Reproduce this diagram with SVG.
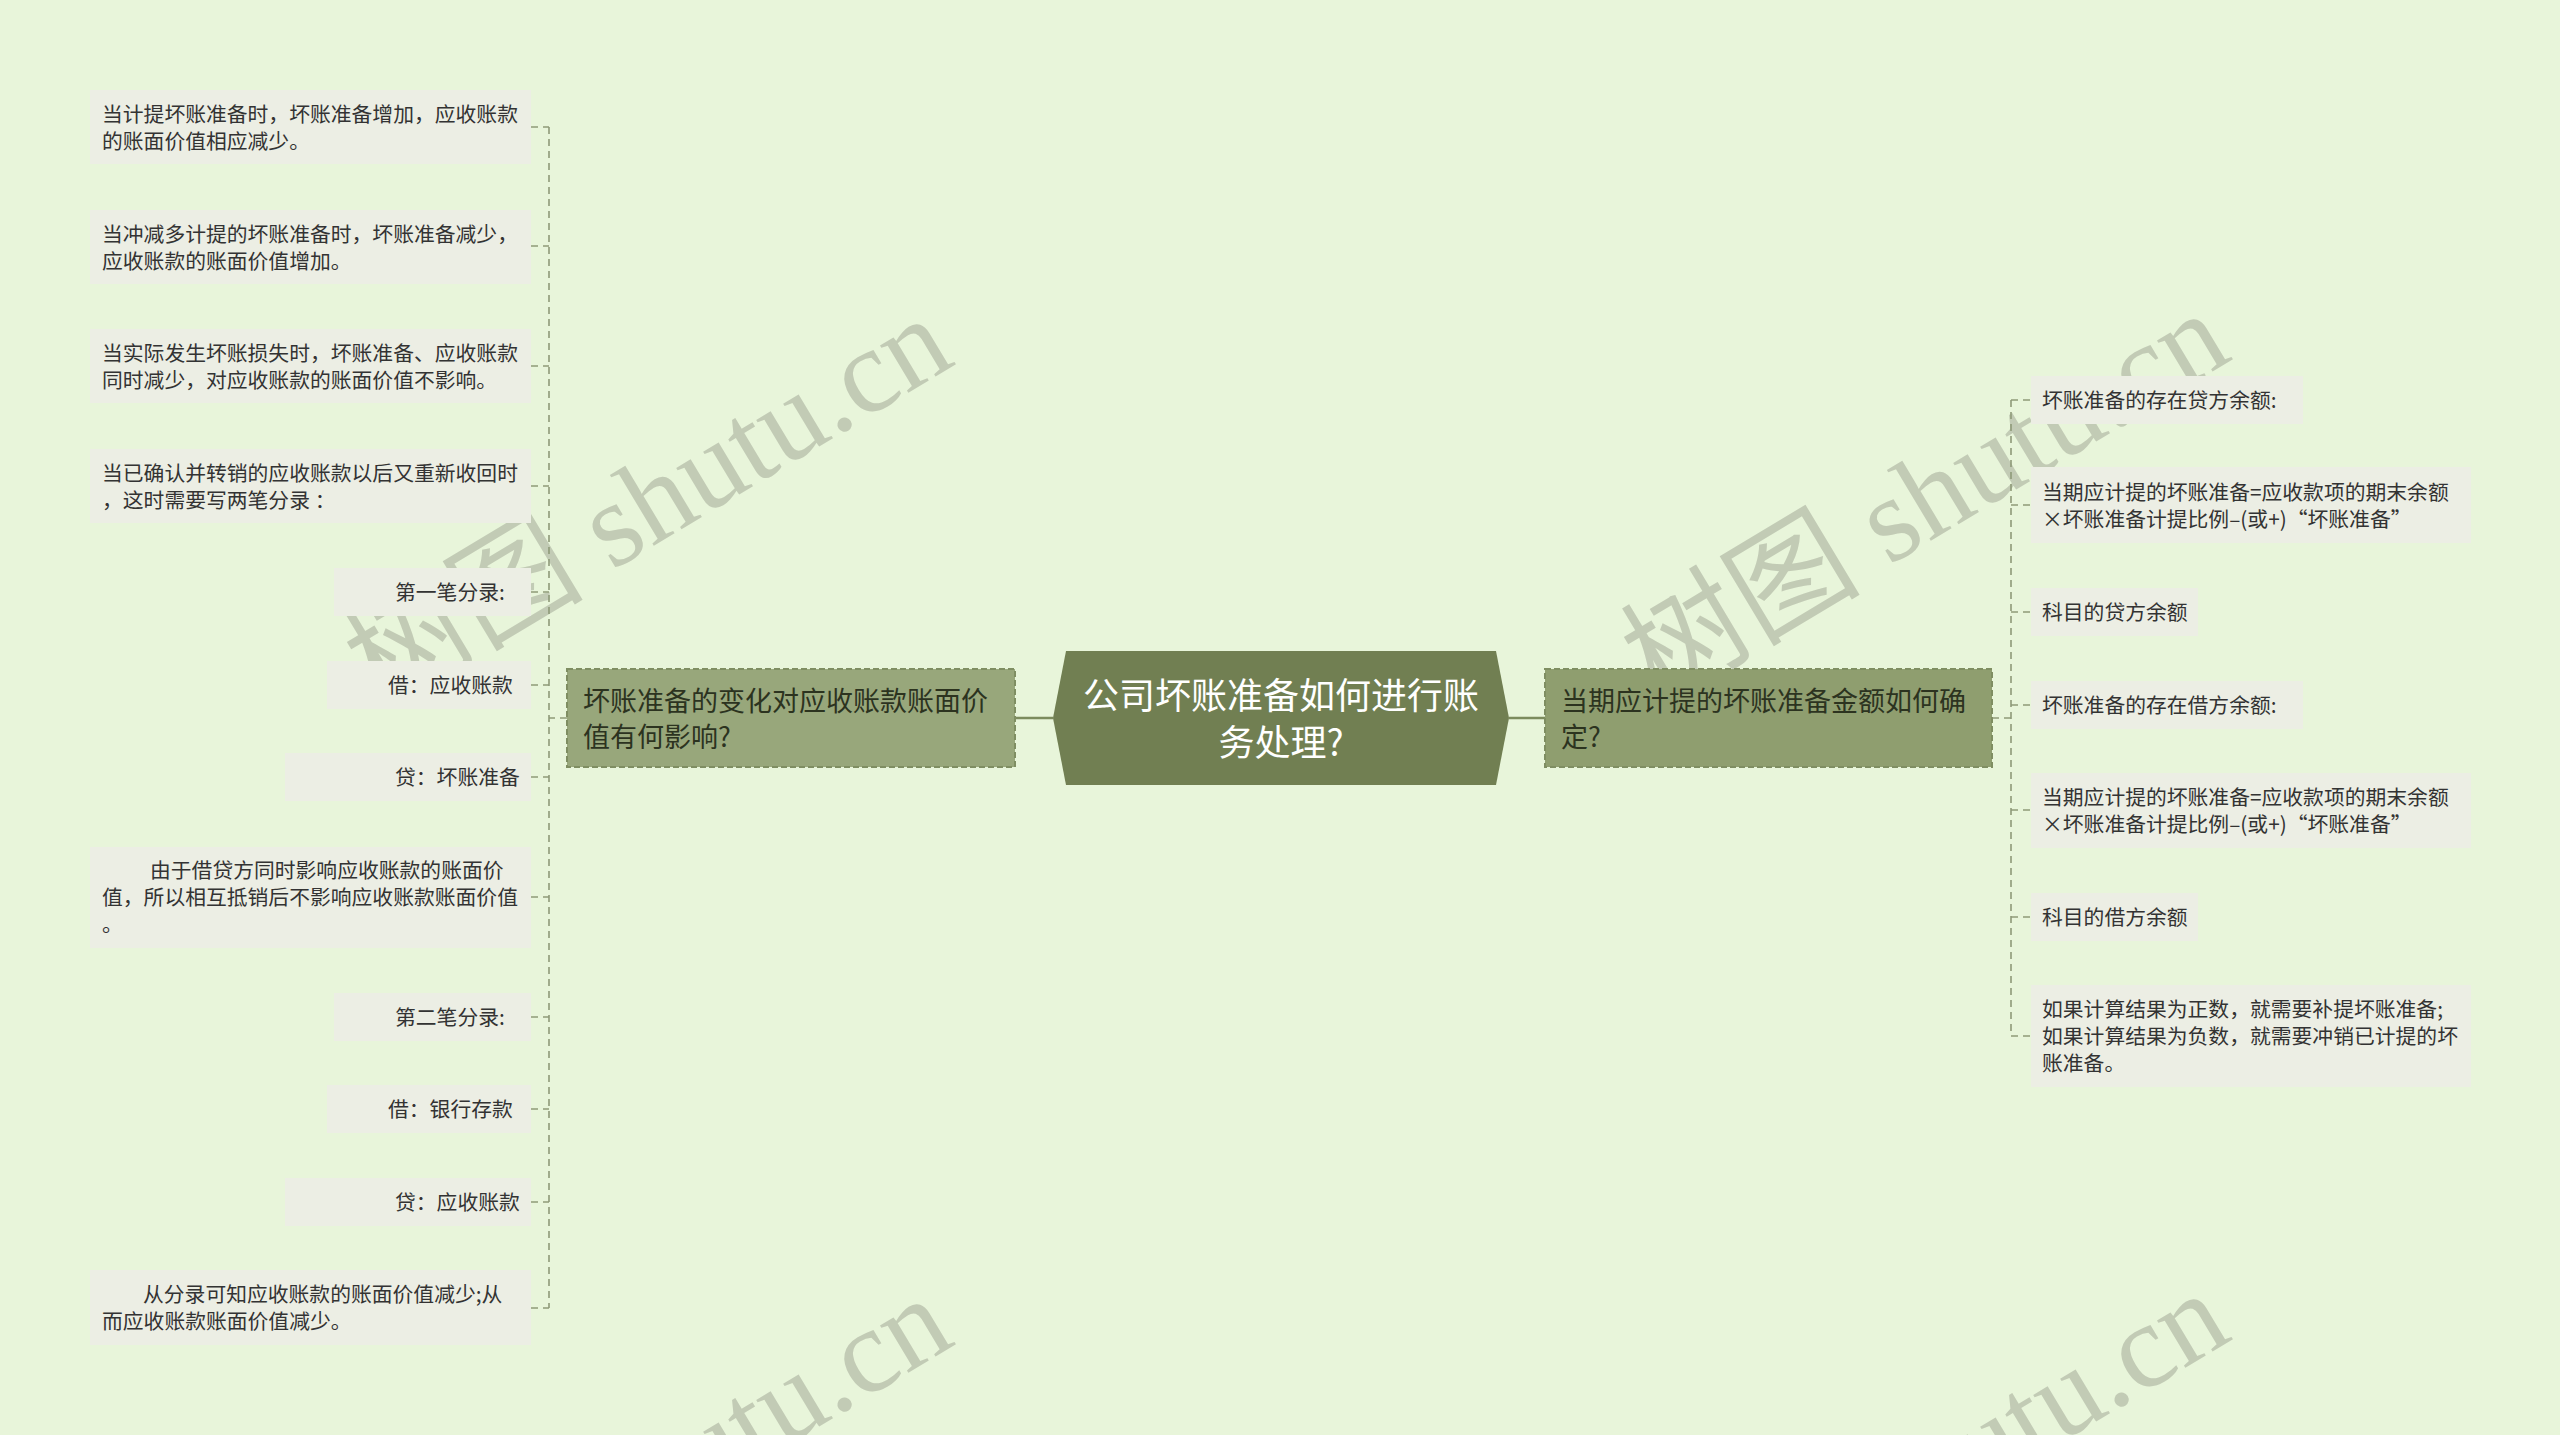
<svg xmlns="http://www.w3.org/2000/svg" width="2560" height="1435" viewBox="0 0 2560 1435">
<style>
.lf{fill:#eceee4}
.lt{font-family:"Noto Sans CJK SC","Noto Sans",sans-serif;font-size:20.8px;fill:#333333;dominant-baseline:central}
.br{stroke:#7f8e62;stroke-width:2;stroke-dasharray:6 3}
.bt{font-family:"Noto Sans CJK SC","Noto Sans",sans-serif;font-size:27px;fill:#2c331f;dominant-baseline:central}
.ct{font-family:"Noto Sans CJK SC","Noto Sans",sans-serif;font-size:36px;fill:#ffffff;dominant-baseline:central;text-anchor:middle}
.dash{fill:none;stroke:#8e9a78;stroke-width:1.6;stroke-dasharray:7 5}
.main{fill:none;stroke:#7c8b5d;stroke-width:2.5}
.wm{font-family:"Liberation Serif","Noto Sans CJK SC",serif;font-size:120px;fill:#c2cbb5;text-anchor:middle;dominant-baseline:central}
</style>
<rect x="0" y="0" width="2560" height="1435" fill="#e8f5da"/>

<g id="watermarks">
<text class="wm" transform="translate(648,502) rotate(-31)">树图 shutu.cn</text>
<text class="wm" transform="translate(1925,497) rotate(-31)">树图 shutu.cn</text>
<text class="wm" transform="translate(648,1482) rotate(-31)">树图 shutu.cn</text>
<text class="wm" transform="translate(1925,1477) rotate(-31)">树图 shutu.cn</text>
</g>

<g id="connectors">
<path class="main" d="M1053 718 H1015 M1509 718 H1545"/>
<path class="dash" d="M567 718 H549 M549 127 V1308 M531 127 H549 M531 246 H549 M531 366 H549 M531 486 H549 M531 592 H549 M531 685 H549 M531 777 H549 M531 897 H549 M531 1017 H549 M531 1109 H549 M531 1202 H549 M531 1308 H549"/>
<path class="dash" d="M1992 718 H2011 M2011 400 V1036 M2011 400 H2031 M2011 505 H2031 M2011 612 H2031 M2011 705 H2031 M2011 810 H2031 M2011 917 H2031 M2011 1036 H2031"/>
</g>

<g id="center">
<polygon points="1053,718 1066,651 1496,651 1509,718 1496,785 1066,785" fill="#717f52"/>
<text class="ct" x="1281" y="693">公司坏账准备如何进行账<tspan x="1281" dy="47">务处理?</tspan></text>
</g>

<g id="branch-left">
<rect class="br" x="567" y="669" width="448" height="98" fill="#98a77b"/>
<text class="bt" x="583" y="699">坏账准备的变化对应收账款账面价<tspan x="583" dy="36">值有何影响?</tspan></text>
</g>

<g id="branch-right">
<rect class="br" x="1545" y="669" width="447" height="98" fill="#8f9e6f"/>
<text class="bt" x="1561" y="699">当期应计提的坏账准备金额如何确<tspan x="1561" dy="36">定?</tspan></text>
</g>

<g id="leaf-l1">
<rect class="lf" x="90" y="90" width="441" height="74"/>
<text class="lt" x="102" y="113">当计提坏账准备时，坏账准备增加，应收账款<tspan x="102" dy="27">的账面价值相应减少。</tspan></text>
</g>
<g id="leaf-l2">
<rect class="lf" x="90" y="210" width="441" height="74"/>
<text class="lt" x="102" y="233">当冲减多计提的坏账准备时，坏账准备减少，<tspan x="102" dy="27">应收账款的账面价值增加。</tspan></text>
</g>
<g id="leaf-l3">
<rect class="lf" x="90" y="329" width="441" height="74"/>
<text class="lt" x="102" y="352">当实际发生坏账损失时，坏账准备、应收账款<tspan x="102" dy="27">同时减少，对应收账款的账面价值不影响。</tspan></text>
</g>
<g id="leaf-l4">
<rect class="lf" x="90" y="449" width="441" height="74"/>
<text class="lt" x="102" y="472">当已确认并转销的应收账款以后又重新收回时<tspan x="102" dy="27">，这时需要写两笔分录 ：</tspan></text>
</g>
<g id="leaf-l5">
<rect class="lf" x="334" y="568" width="197" height="48"/>
<text class="lt" x="395" y="591">第一笔分录:</text>
</g>
<g id="leaf-l6">
<rect class="lf" x="327" y="661" width="204" height="48"/>
<text class="lt" x="388" y="684">借：应收账款</text>
</g>
<g id="leaf-l7">
<rect class="lf" x="285" y="753" width="246" height="48"/>
<text class="lt" x="395" y="776">贷：坏账准备</text>
</g>
<g id="leaf-l8">
<rect class="lf" x="90" y="847" width="441" height="101"/>
<text class="lt" x="150" y="869">由于借贷方同时影响应收账款的账面价<tspan x="102" dy="27">值，所以相互抵销后不影响应收账款账面价值</tspan><tspan x="102" dy="27">。</tspan></text>
</g>
<g id="leaf-l9">
<rect class="lf" x="334" y="993" width="197" height="48"/>
<text class="lt" x="395" y="1016">第二笔分录:</text>
</g>
<g id="leaf-l10">
<rect class="lf" x="327" y="1085" width="204" height="48"/>
<text class="lt" x="388" y="1108">借：银行存款</text>
</g>
<g id="leaf-l11">
<rect class="lf" x="285" y="1178" width="246" height="48"/>
<text class="lt" x="395" y="1201">贷：应收账款</text>
</g>
<g id="leaf-l12">
<rect class="lf" x="90" y="1270" width="441" height="75"/>
<text class="lt" x="143" y="1293">从分录可知应收账款的账面价值减少;从<tspan x="102" dy="27">而应收账款账面价值减少。</tspan></text>
</g>

<g id="leaf-r1">
<rect class="lf" x="2031" y="376" width="272" height="48"/>
<text class="lt" x="2042" y="399">坏账准备的存在贷方余额:</text>
</g>
<g id="leaf-r2">
<rect class="lf" x="2031" y="467" width="440" height="76"/>
<text class="lt" x="2042" y="491">当期应计提的坏账准备=应收款项的期末余额<tspan x="2042" dy="27">×坏账准备计提比例–(或+)“坏账准备”</tspan></text>
</g>
<g id="leaf-r3">
<rect class="lf" x="2031" y="588" width="167" height="48"/>
<text class="lt" x="2042" y="611">科目的贷方余额</text>
</g>
<g id="leaf-r4">
<rect class="lf" x="2031" y="681" width="272" height="48"/>
<text class="lt" x="2042" y="704">坏账准备的存在借方余额:</text>
</g>
<g id="leaf-r5">
<rect class="lf" x="2031" y="773" width="440" height="75"/>
<text class="lt" x="2042" y="796">当期应计提的坏账准备=应收款项的期末余额<tspan x="2042" dy="27">×坏账准备计提比例–(或+)“坏账准备”</tspan></text>
</g>
<g id="leaf-r6">
<rect class="lf" x="2031" y="893" width="167" height="48"/>
<text class="lt" x="2042" y="916">科目的借方余额</text>
</g>
<g id="leaf-r7">
<rect class="lf" x="2031" y="985" width="440" height="102"/>
<text class="lt" x="2042" y="1008">如果计算结果为正数，就需要补提坏账准备;<tspan x="2042" dy="27">如果计算结果为负数，就需要冲销已计提的坏</tspan><tspan x="2042" dy="27">账准备。</tspan></text>
</g>
</svg>
